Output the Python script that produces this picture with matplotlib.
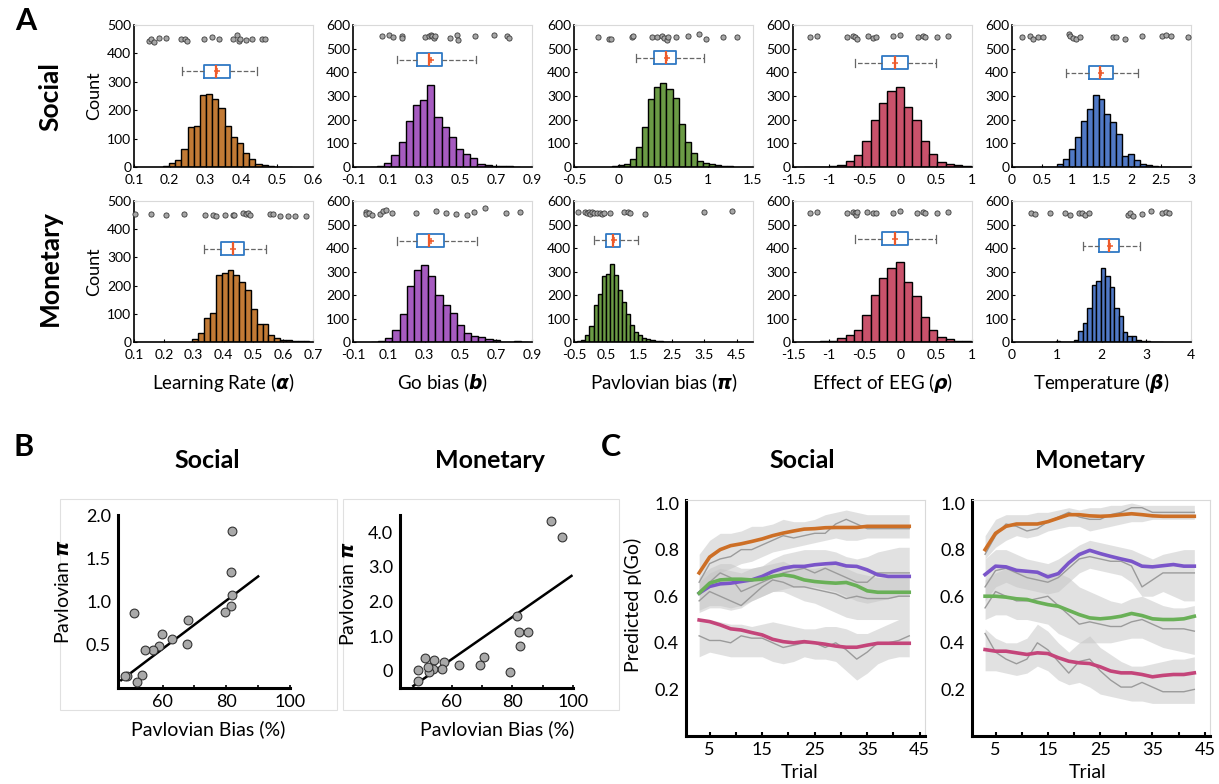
import numpy as np
import matplotlib.pyplot as plt
from matplotlib.patches import Rectangle

plt.rcParams['font.family'] = ['Lato', 'DejaVu Sans']
plt.rcParams['mathtext.fontset'] = 'dejavusans'
plt.rcParams['axes.unicode_minus'] = False

W, H = 1219, 784

######### Panel A : posterior histograms ############
param_names = ['Learning Rate', 'Go bias', 'Pavlovian bias', 'Effect of EEG', 'Temperature']
param_syms = [r'$\boldsymbol{\alpha}$', r'$\boldsymbol{b}$', r'$\boldsymbol{\pi}$',
              r'$\boldsymbol{\rho}$', r'$\boldsymbol{\beta}$']
hist_colors = ['#c27a35', '#a65bc0', '#6b9b45', '#c9526b', '#5079c6']

# bins = (first edge, width); box = whislo, q1, median, mean, q3, whishi
soc_lr_bins = (0.181, 0.0172)
soc_lr_counts = [5, 14, 26, 62, 140, 145, 254, 257, 240, 208, 145, 104, 83, 48, 27, 12, 7, 4, 1, 0, 1]
soc_lr_box = [0.235, 0.295, 0.330, 0.333, 0.367, 0.444]
soc_lr_dots_x = [0.141, 0.148, 0.156, 0.170, 0.190, 0.230, 0.242, 0.249, 0.296, 0.319,
                 0.337, 0.377, 0.388, 0.393, 0.397, 0.412, 0.430, 0.458, 0.467]
soc_lr_dots_y = [445, 452, 440, 454, 455, 449, 452, 444, 452, 456, 449, 452, 464, 444, 452, 448, 451, 450, 450]

soc_go_bins = (-0.005, 0.04)
soc_go_counts = [1, 3, 17, 49, 104, 194, 260, 281, 347, 211, 167, 126, 76, 57, 36, 14, 10, 6, 6, 4, 2]
soc_go_box = [0.144, 0.259, 0.323, 0.338, 0.399, 0.585]
soc_go_dots_x = [0.064, 0.101, 0.123, 0.172, 0.176, 0.304, 0.323, 0.334, 0.343, 0.351,
                 0.360, 0.440, 0.483, 0.487, 0.583, 0.686, 0.760, 0.772]
soc_go_dots_y = [554, 556, 550, 554, 546, 549, 555, 558, 552, 547, 553, 543, 556, 536, 554, 556, 554, 546]

soc_pav_bins = (-0.079, 0.068)
soc_pav_counts = [3, 7, 14, 33, 86, 167, 286, 339, 354, 331, 290, 181, 107, 61, 26, 19, 14, 10, 6, 3]
soc_pav_box = [0.193, 0.397, 0.525, 0.540, 0.643, 0.956]
soc_pav_dots_x = [-0.235, -0.105, -0.09, 0.144, 0.163, 0.368, 0.424, 0.480, 0.506, 0.535,
                  0.554, 0.640, 0.770, 0.897, 0.975, 1.169, 1.318]
soc_pav_dots_y = [550, 540, 542, 550, 552, 548, 550, 555, 545, 538, 548, 548, 552, 560, 542, 548, 548]

soc_eeg_bins = (-1.35, 0.1167)
soc_eeg_counts = [1, 2, 2, 3, 10, 24, 50, 111, 197, 272, 320, 340, 255, 197, 111, 53, 21, 14, 7, 4, 2]
soc_eeg_box = [-0.636, -0.253, -0.075, -0.070, 0.11, 0.50]
soc_eeg_dots_x = [-1.256, -1.164, -0.752, -0.660, -0.636, -0.612, -0.45, -0.388, -0.342, -0.10,
                  -0.006, 0.251, 0.312, 0.344, 0.508, 0.662]
soc_eeg_dots_y = [550, 553, 550, 555, 548, 542, 553, 547, 550, 553, 557, 550, 552, 550, 550, 555]

soc_tmp_bins = (0.45, 0.1)
soc_tmp_counts = [1, 2, 2, 14, 33, 74, 125, 195, 245, 304, 289, 223, 192, 138, 47, 53, 28, 14, 7, 4, 2, 1]
soc_tmp_box = [0.909, 1.294, 1.478, 1.49, 1.701, 2.108]
soc_tmp_dots_x = [0.167, 0.307, 0.351, 0.435, 0.519, 0.948, 0.976, 1.021, 1.076, 1.132,
                  1.701, 1.746, 1.896, 2.175, 2.510, 2.577, 2.666, 2.956]
soc_tmp_dots_y = [550, 552, 540, 550, 550, 561, 553, 545, 540, 548, 550, 550, 540, 552, 553, 556, 555, 550]

mon_lr_bins = (0.296, 0.0196)
mon_lr_counts = [12, 33, 85, 103, 239, 246, 256, 236, 213, 183, 118, 65, 65, 26, 14, 8, 6, 5, 5, 2]
mon_lr_box = [0.334, 0.393, 0.432, 0.432, 0.469, 0.544]
mon_lr_dots_x = [0.102, 0.158, 0.208, 0.268, 0.337, 0.365, 0.374, 0.404, 0.432, 0.435,
                 0.465, 0.474, 0.482, 0.490, 0.555, 0.566, 0.588, 0.616, 0.639, 0.678]
mon_lr_dots_y = [455, 455, 452, 455, 449, 449, 447, 452, 450, 452, 456, 454, 456, 449, 454, 454, 447, 446, 447, 446]

mon_go_bins = (0.0, 0.04)
mon_go_counts = [1, 3, 17, 50, 121, 238, 308, 329, 281, 199, 156, 125, 74, 38, 24, 21, 11, 7, 2, 2, 3, 1]
mon_go_box = [0.144, 0.258, 0.323, 0.338, 0.407, 0.595]
mon_go_dots_x = [-0.029, -0.026, -0.011, 0.008, 0.053, 0.068, 0.082, 0.120, 0.250, 0.362,
                 0.421, 0.477, 0.537, 0.574, 0.636, 0.757, 0.832]
mon_go_dots_y = [553, 546, 548, 539, 546, 556, 563, 548, 550, 558, 550, 546, 539, 553, 570, 550, 553]

mon_pav_bins = (-0.4, 0.125)
mon_pav_counts = [4, 10, 28, 68, 159, 206, 279, 290, 333, 284, 220, 170, 121, 71, 43, 28, 18, 11, 7, 4, 3, 2, 1]
mon_pav_box = [0.105, 0.483, 0.69, 0.72, 0.925, 1.466]
mon_pav_dots_x = [-0.377, -0.150, -0.100, -0.048, 0.003, 0.053, 0.126, 0.207, 0.310, 0.360,
                  0.433, 0.597, 1.027, 1.159, 1.233, 1.694, 3.506, 4.354]
mon_pav_dots_y = [555, 553, 548, 553, 545, 553, 550, 548, 550, 545, 550, 550, 552, 555, 550, 545, 553, 557]

mon_eeg_bins = (-1.35, 0.1167)
mon_eeg_counts = [1, 2, 3, 5, 17, 28, 51, 113, 199, 274, 316, 340, 256, 197, 106, 50, 20, 13, 6, 3, 2]
mon_eeg_box = [-0.636, -0.253, -0.075, -0.07, 0.11, 0.50]
mon_eeg_dots_x = [-1.256, -1.164, -0.752, -0.660, -0.636, -0.625, -0.612, -0.473, -0.388, -0.342,
                  -0.11, -0.006, 0.228, 0.312, 0.344, 0.508, 0.662]
mon_eeg_dots_y = [550, 553, 550, 555, 548, 542, 553, 553, 547, 550, 550, 557, 550, 552, 550, 550, 555]

mon_tmp_bins = (0.98, 0.1)
mon_tmp_counts = [3, 1, 0, 1, 10, 45, 81, 144, 243, 260, 314, 281, 236, 144, 109, 42, 27, 24, 10, 6, 4, 2, 1, 1]
mon_tmp_box = [1.576, 1.955, 2.178, 2.19, 2.394, 2.862]
mon_tmp_dots_x = [0.431, 0.506, 0.855, 1.175, 1.301, 1.487, 1.561, 1.636, 1.725, 2.587,
                  2.639, 2.714, 2.900, 3.100, 3.361, 3.435, 3.517]
mon_tmp_dots_y = [550, 543, 548, 551, 540, 548, 550, 540, 550, 542, 548, 536, 546, 557, 550, 553, 547]

######### Panel B : scatter ############
soc_bias = [81.8, 81.4, 81.8, 81.4, 79.5, 68.0, 67.8, 63.0, 59.8, 58.8, 57.0, 54.6, 51.0, 53.5, 52.1, 48.9, 48.1]
soc_pi = [1.81, 1.34, 1.08, 0.95, 0.88, 0.79, 0.51, 0.57, 0.63, 0.49, 0.44, 0.44, 0.87, 0.15, 0.07, 0.14, 0.14]
soc_fit_x = [47.0, 90.0]
soc_fit_y = [0.09, 1.29]
mon_bias = [92.9, 96.4, 81.6, 82.3, 85.2, 82.5, 79.4, 70.6, 69.3, 62.5, 57.5, 56.9, 54.3, 54.0, 52.6, 52.3,
            51.4, 49.0, 49.0]
mon_pi = [4.34, 3.85, 1.59, 1.11, 1.12, 0.70, -0.05, 0.41, 0.17, 0.17, 0.26, 0.05, 0.31, 0.05, -0.05, 0.12,
          0.36, 0.03, -0.29]
mon_fit_x = [47.4, 99.5]
mon_fit_y = [-0.44, 2.74]

######### Panel C : predicted p(Go) ############
trials = list(range(3, 44, 2))
line_colors = ['#cd6f26', '#7a55c9', '#69b057', '#c4457a']

soc_model = [
    [0.70, 0.768, 0.80, 0.817, 0.825, 0.835, 0.846, 0.86, 0.871, 0.88, 0.888, 0.89, 0.894, 0.895, 0.895,
     0.895, 0.90, 0.90, 0.90, 0.90, 0.90],
    [0.613, 0.642, 0.653, 0.656, 0.663, 0.67, 0.685, 0.706, 0.72, 0.728, 0.728, 0.735, 0.739, 0.742, 0.73,
     0.728, 0.713, 0.692, 0.685, 0.685, 0.685],
    [0.613, 0.656, 0.67, 0.673, 0.673, 0.67, 0.673, 0.685, 0.692, 0.685, 0.67, 0.663, 0.659, 0.656, 0.659,
     0.645, 0.623, 0.617, 0.617, 0.617, 0.617],
    [0.498, 0.491, 0.477, 0.46, 0.455, 0.444, 0.434, 0.415, 0.405, 0.40, 0.405, 0.40, 0.394, 0.386, 0.381,
     0.381, 0.39, 0.398, 0.398, 0.398, 0.398]]
soc_obs = [
    [0.66, 0.74, 0.76, 0.77, 0.80, 0.80, 0.82, 0.84, 0.86, 0.85, 0.86, 0.87, 0.87, 0.91, 0.93, 0.91, 0.89,
     0.89, 0.89, 0.89, 0.89],
    [0.62, 0.66, 0.70, 0.68, 0.62, 0.64, 0.66, 0.68, 0.70, 0.71, 0.72, 0.70, 0.72, 0.70, 0.68, 0.66, 0.66,
     0.70, 0.70, 0.70, 0.70],
    [0.58, 0.62, 0.60, 0.58, 0.56, 0.60, 0.64, 0.67, 0.66, 0.64, 0.64, 0.63, 0.62, 0.61, 0.59, 0.60, 0.59,
     0.59, 0.59, 0.60, 0.60],
    [0.43, 0.41, 0.41, 0.40, 0.43, 0.42, 0.42, 0.40, 0.38, 0.39, 0.40, 0.40, 0.38, 0.40, 0.37, 0.33, 0.36,
     0.40, 0.40, 0.41, 0.43]]
soc_hi = [
    [0.78, 0.84, 0.87, 0.87, 0.88, 0.90, 0.90, 0.91, 0.93, 0.92, 0.92, 0.93, 0.95, 0.96, 0.97, 0.96, 0.95,
     0.95, 0.95, 0.95, 0.95],
    [0.68, 0.72, 0.74, 0.74, 0.72, 0.72, 0.73, 0.76, 0.78, 0.79, 0.80, 0.80, 0.80, 0.79, 0.77, 0.76, 0.77,
     0.79, 0.80, 0.81, 0.81],
    [0.66, 0.70, 0.72, 0.71, 0.70, 0.72, 0.73, 0.74, 0.75, 0.73, 0.72, 0.72, 0.73, 0.74, 0.72, 0.70, 0.69,
     0.68, 0.68, 0.68, 0.68],
    [0.50, 0.50, 0.49, 0.48, 0.48, 0.47, 0.48, 0.49, 0.48, 0.47, 0.46, 0.46, 0.47, 0.47, 0.46, 0.44, 0.44,
     0.46, 0.48, 0.50, 0.50]]
soc_lo = [
    [0.62, 0.66, 0.70, 0.72, 0.74, 0.75, 0.77, 0.79, 0.80, 0.81, 0.82, 0.83, 0.84, 0.85, 0.84, 0.84, 0.85,
     0.85, 0.85, 0.85, 0.85],
    [0.54, 0.56, 0.56, 0.55, 0.56, 0.58, 0.60, 0.62, 0.63, 0.64, 0.64, 0.64, 0.63, 0.62, 0.60, 0.58, 0.57,
     0.58, 0.59, 0.60, 0.60],
    [0.53, 0.55, 0.55, 0.54, 0.55, 0.58, 0.60, 0.62, 0.62, 0.60, 0.58, 0.57, 0.55, 0.53, 0.51, 0.50, 0.50,
     0.50, 0.50, 0.50, 0.50],
    [0.34, 0.36, 0.35, 0.34, 0.34, 0.34, 0.34, 0.32, 0.31, 0.32, 0.34, 0.33, 0.33, 0.32, 0.28, 0.24, 0.27,
     0.31, 0.33, 0.34, 0.34]]

mon_model = [
    [0.80, 0.87, 0.90, 0.91, 0.91, 0.91, 0.92, 0.935, 0.95, 0.95, 0.945, 0.943, 0.945, 0.95, 0.954, 0.95,
     0.945, 0.943, 0.943, 0.943, 0.943],
    [0.693, 0.729, 0.726, 0.711, 0.707, 0.703, 0.683, 0.697, 0.743, 0.779, 0.797, 0.783, 0.771, 0.76, 0.75,
     0.729, 0.726, 0.731, 0.736, 0.729, 0.729],
    [0.60, 0.60, 0.596, 0.589, 0.586, 0.574, 0.564, 0.557, 0.539, 0.521, 0.507, 0.503, 0.507, 0.514, 0.526,
     0.517, 0.503, 0.50, 0.50, 0.503, 0.514],
    [0.371, 0.364, 0.364, 0.357, 0.35, 0.357, 0.354, 0.336, 0.321, 0.314, 0.311, 0.297, 0.279, 0.271, 0.271,
     0.264, 0.254, 0.26, 0.264, 0.264, 0.271]]
mon_obs = [
    [0.78, 0.86, 0.91, 0.90, 0.88, 0.89, 0.92, 0.94, 0.96, 0.94, 0.93, 0.93, 0.95, 0.96, 0.98, 0.98, 0.96,
     0.96, 0.96, 0.96, 0.96],
    [0.64, 0.71, 0.72, 0.70, 0.68, 0.67, 0.66, 0.68, 0.72, 0.76, 0.77, 0.76, 0.75, 0.75, 0.73, 0.64, 0.67,
     0.70, 0.70, 0.70, 0.70],
    [0.55, 0.62, 0.60, 0.58, 0.58, 0.59, 0.60, 0.56, 0.52, 0.48, 0.49, 0.48, 0.47, 0.47, 0.49, 0.50, 0.48,
     0.46, 0.46, 0.46, 0.45],
    [0.44, 0.36, 0.33, 0.31, 0.33, 0.40, 0.37, 0.32, 0.27, 0.32, 0.33, 0.28, 0.24, 0.21, 0.21, 0.23, 0.21,
     0.19, 0.19, 0.19, 0.20]]
mon_hi = [
    [0.86, 0.93, 0.95, 0.95, 0.95, 0.96, 0.96, 0.97, 0.98, 0.97, 0.98, 0.98, 0.99, 0.99, 1.0, 0.99, 0.99,
     0.99, 0.99, 0.99, 0.99],
    [0.76, 0.80, 0.80, 0.78, 0.76, 0.75, 0.74, 0.76, 0.79, 0.82, 0.84, 0.83, 0.82, 0.81, 0.80, 0.78, 0.76,
     0.78, 0.79, 0.80, 0.80],
    [0.67, 0.70, 0.72, 0.71, 0.70, 0.70, 0.70, 0.70, 0.68, 0.64, 0.62, 0.60, 0.58, 0.57, 0.59, 0.60, 0.58,
     0.56, 0.55, 0.55, 0.56],
    [0.46, 0.42, 0.40, 0.40, 0.42, 0.48, 0.45, 0.40, 0.36, 0.40, 0.43, 0.38, 0.35, 0.32, 0.30, 0.30, 0.31,
     0.32, 0.33, 0.33, 0.34]]
mon_lo = [
    [0.76, 0.81, 0.84, 0.86, 0.85, 0.86, 0.88, 0.89, 0.90, 0.90, 0.88, 0.89, 0.90, 0.91, 0.92, 0.92, 0.93,
     0.93, 0.93, 0.93, 0.93],
    [0.58, 0.64, 0.66, 0.64, 0.63, 0.62, 0.61, 0.62, 0.66, 0.70, 0.72, 0.71, 0.70, 0.69, 0.66, 0.60, 0.60,
     0.62, 0.60, 0.58, 0.58],
    [0.50, 0.52, 0.52, 0.50, 0.50, 0.49, 0.48, 0.44, 0.42, 0.40, 0.40, 0.40, 0.40, 0.41, 0.42, 0.42, 0.40,
     0.38, 0.37, 0.36, 0.35],
    [0.28, 0.28, 0.27, 0.26, 0.27, 0.30, 0.28, 0.24, 0.22, 0.23, 0.21, 0.18, 0.17, 0.16, 0.15, 0.15, 0.14,
     0.14, 0.14, 0.14, 0.14]]

##################################################
fig = plt.figure(figsize=(W / 100, H / 100), dpi=100)


def ax_px(l, t, r, b):
    return fig.add_axes([l / W, 1 - b / H, (r - l) / W, (b - t) / H])


def ftext(x, y, s, **kw):
    fig.text(x / W, 1 - y / H, s, ha=kw.pop('ha', 'center'), va=kw.pop('va', 'center'), **kw)


def light_box(ax):
    for s in ['top', 'right']:
        ax.spines[s].set_color('#d9d9d9')
        ax.spines[s].set_linewidth(0.8)


#### Panel A ####
axis_cfg = [
    ((0.1, 0.6), [0.1, 0.2, 0.3, 0.4, 0.5, 0.6], None),
    ((-0.1, 0.9), [-0.1, 0.1, 0.3, 0.5, 0.7, 0.9], None),
    ((-0.5, 1.5), [-0.5, 0, 0.5, 1, 1.5], ['-0.5', '0', '0.5', '1', '1.5']),
    ((-1.5, 1), [-1.5, -1, -0.5, 0, 0.5, 1], ['-1.5', '-1', '-0.5', '0', '0.5', '1']),
    ((0, 3), [0, 0.5, 1, 1.5, 2, 2.5, 3], ['0', '0.5', '1', '1.5', '2', '2.5', '3']),
]
axis_cfg_mon = [
    ((0.1, 0.7), [0.1, 0.2, 0.3, 0.4, 0.5, 0.6, 0.7], None),
    ((-0.1, 0.9), [-0.1, 0.1, 0.3, 0.5, 0.7, 0.9], None),
    ((-0.5, 5), [-0.5, 0.5, 1.5, 2.5, 3.5, 4.5], None),
    ((-1.5, 1), [-1.5, -1, -0.5, 0, 0.5, 1], ['-1.5', '-1', '-0.5', '0', '0.5', '1']),
    ((0, 4), [0, 1, 2, 3, 4], None),
]
soc_sets = [
    (soc_lr_bins, soc_lr_counts, soc_lr_box, soc_lr_dots_x, soc_lr_dots_y, 500, 337),
    (soc_go_bins, soc_go_counts, soc_go_box, soc_go_dots_x, soc_go_dots_y, 600, 454),
    (soc_pav_bins, soc_pav_counts, soc_pav_box, soc_pav_dots_x, soc_pav_dots_y, 600, 461),
    (soc_eeg_bins, soc_eeg_counts, soc_eeg_box, soc_eeg_dots_x, soc_eeg_dots_y, 600, 440),
    (soc_tmp_bins, soc_tmp_counts, soc_tmp_box, soc_tmp_dots_x, soc_tmp_dots_y, 600, 398),
]
mon_sets = [
    (mon_lr_bins, mon_lr_counts, mon_lr_box, mon_lr_dots_x, mon_lr_dots_y, 500, 331),
    (mon_go_bins, mon_go_counts, mon_go_box, mon_go_dots_x, mon_go_dots_y, 600, 430),
    (mon_pav_bins, mon_pav_counts, mon_pav_box, mon_pav_dots_x, mon_pav_dots_y, 600, 433),
    (mon_eeg_bins, mon_eeg_counts, mon_eeg_box, mon_eeg_dots_x, mon_eeg_dots_y, 600, 440),
    (mon_tmp_bins, mon_tmp_counts, mon_tmp_box, mon_tmp_dots_x, mon_tmp_dots_y, 600, 410),
]
lefts = [134, 353, 574, 793, 1012]
aw = 179
rows = [(soc_sets, axis_cfg, 25, 167), (mon_sets, axis_cfg_mon, 201, 342)]

for sets, cfgs, top, bot in rows:
    for i, (data, cfg) in enumerate(zip(sets, cfgs)):
        (b0, bw), counts, box, dx, dy, ymax, box_y = data
        xlim, xt, xtl = cfg
        ax = ax_px(lefts[i], top, lefts[i] + aw, bot)
        edges = b0 + bw * np.arange(len(counts))
        ax.bar(edges, counts, width=bw, align='edge', color=hist_colors[i],
               edgecolor='black', linewidth=1.0, zorder=2)
        bh = 13 * ymax / (bot - top)
        stats = [dict(whislo=box[0], q1=box[1], med=box[2], mean=box[3], q3=box[4],
                      whishi=box[5], fliers=[])]
        ax.bxp(stats, positions=[box_y], widths=bh, orientation='horizontal',
               showmeans=True, showfliers=False, manage_ticks=False, capwidths=bh * 0.6,
               boxprops=dict(color='#2f78c4', lw=1.3),
               whiskerprops=dict(color='#666666', ls='--', lw=0.9),
               capprops=dict(color='#666666', lw=0.9),
               medianprops=dict(color='#ee5a2a', lw=1.6),
               meanprops=dict(marker='+', markeredgecolor='#ee5a2a', markersize=5, mew=1.1))
        ax.scatter(dx, dy, s=14, facecolor='#a6a6a6', edgecolor='#3a3a3a',
                   linewidth=0.6, zorder=3, clip_on=False)
        ax.set_xlim(*xlim)
        ax.set_ylim(0, ymax)
        ax.set_xticks(xt)
        if xtl is not None:
            ax.set_xticklabels(xtl)
        else:
            ax.set_xticklabels([('%g' % v) for v in xt])
        ax.set_yticks(np.arange(0, ymax + 1, 100))
        light_box(ax)
        ax.spines['left'].set_linewidth(1.2)
        ax.spines['bottom'].set_linewidth(1.2)
        ax.tick_params(direction='in', length=2.5, width=0.8, labelsize=10)
        ax.tick_params(axis='x', pad=5)
        ax.tick_params(axis='y', pad=2)
        if i == 0:
            ftext(94, (top + bot) / 2, 'Count', rotation=90, fontsize=13)

for i in range(5):
    ftext(lefts[i] + aw / 2, 383, param_names[i] + ' (' + param_syms[i] + ')', fontsize=13.5)

ftext(50, 97, 'Social', rotation=90, fontsize=19, fontweight='bold')
ftext(50, 268, 'Monetary', rotation=90, fontsize=19, fontweight='bold')

#### Panel B ####
b_specs = [
    (118, 290, soc_bias, soc_pi, soc_fit_x, soc_fit_y, (46, 100), (0, 2.0),
     [0.5, 1.0, 1.5, 2.0], ['0.5', '1.0', '1.5', '2.0'], (60, 337)),
    (400, 573, mon_bias, mon_pi, mon_fit_x, mon_fit_y, (43, 100), (-0.5, 4.5),
     [0, 1, 2, 3, 4], ['0', '1.0', '2.0', '3.0', '4.0'], (343, 619)),
]
for l, r, bx, by, fx, fy, xl, yl, yt, ytl, (fl, fr) in b_specs:
    fig.add_artist(Rectangle((fl / W, 1 - 710 / H), (fr - fl) / W, 211 / H,
                             transform=fig.transFigure, fill=False,
                             edgecolor='#e0e0e0', lw=0.8))
    ax = ax_px(l, 515, r, 688)
    ax.plot(fx, fy, color='black', lw=1.8, zorder=2)
    ax.scatter(bx, by, s=40, facecolor='#a9a9a9', edgecolor='#333333',
               linewidth=0.8, zorder=3, clip_on=False)
    ax.set_xlim(*xl)
    ax.set_ylim(*yl)
    ax.set_xticks([60, 80, 100])
    ax.set_xticks([70, 90], minor=True)
    ax.set_yticks(yt)
    ax.set_yticklabels(ytl)
    for s in ['top', 'right']:
        ax.spines[s].set_visible(False)
    for s in ['left', 'bottom']:
        ax.spines[s].set_linewidth(2.2)
    ax.tick_params(axis='x', which='both', direction='in', length=2.5, width=1.2,
                   labelsize=13, pad=4)
    ax.tick_params(axis='y', length=0, labelsize=13, pad=5)

ftext(208, 729, 'Pavlovian Bias (%)', fontsize=14)
ftext(497, 729, 'Pavlovian Bias (%)', fontsize=14)
ftext(63, 592, r'Pavlovian $\boldsymbol{\pi}$', rotation=90, fontsize=14)
ftext(348, 594, r'Pavlovian $\boldsymbol{\pi}$', rotation=90, fontsize=14)
ftext(207, 460, 'Social', fontsize=18, fontweight='bold')
ftext(490, 460, 'Monetary', fontsize=18, fontweight='bold')

#### Panel C ####
c_specs = [(686, 925, soc_model, soc_obs, soc_lo, soc_hi, True, 800),
           (972, 1210, mon_model, mon_obs, mon_lo, mon_hi, False, 1088)]
for l, r, model, obs, lo, hi, ylab, tx in c_specs:
    ax = ax_px(l, 500, r, 736)
    for k in range(4):
        ax.fill_between(trials, lo[k], hi[k], color='#c4c4c4', alpha=0.5, lw=0, zorder=1)
    for k in range(4):
        ax.plot(trials, obs[k], color='#9b9b9b', lw=1.0, zorder=2)
    for k in range(4):
        ax.plot(trials, model[k], color=line_colors[k], lw=2.6, zorder=3)
    ax.set_xlim(0.5, 46)
    ax.set_ylim(0, 1.013)
    ax.set_xticks([5, 15, 25, 35, 45])
    ax.set_xticks([10, 20, 30, 40], minor=True)
    ax.set_yticks([0.2, 0.4, 0.6, 0.8, 1.0])
    ax.set_yticklabels(['0.2', '0.4', '0.6', '0.8', '1.0'])
    light_box(ax)
    for s in ['left', 'bottom']:
        ax.spines[s].set_linewidth(2.2)
    ax.tick_params(axis='x', which='both', direction='in', length=3, width=1.5,
                   labelsize=13, pad=4)
    ax.tick_params(axis='y', length=0, labelsize=13, pad=5)
    ftext(tx, 772, 'Trial', fontsize=14)
    if ylab:
        ftext(633, 605, 'Predicted p(Go)', rotation=90, fontsize=14)

ftext(802, 460, 'Social', fontsize=18, fontweight='bold')
ftext(1090, 460, 'Monetary', fontsize=18, fontweight='bold')

ftext(26, 21, 'A', fontsize=22, fontweight='bold')
ftext(24, 447, 'B', fontsize=22, fontweight='bold')
ftext(611, 447, 'C', fontsize=22, fontweight='bold')

fig.savefig('out.png', dpi=100)
